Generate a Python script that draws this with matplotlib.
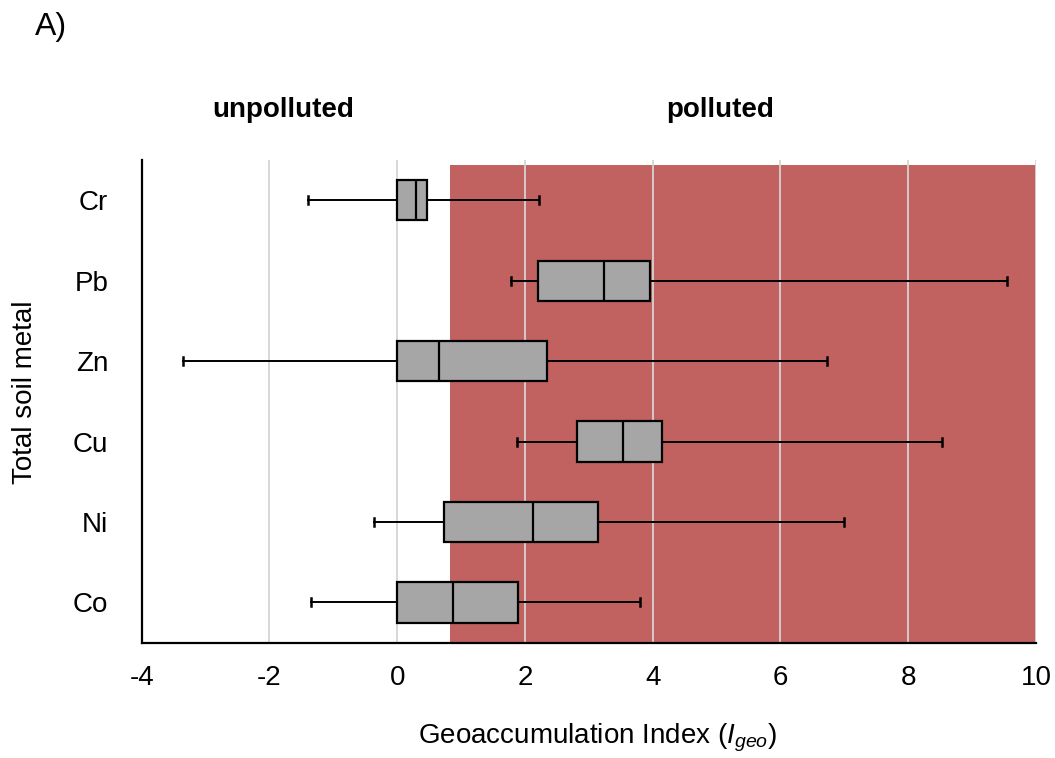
import matplotlib
matplotlib.use("Agg")
import matplotlib.pyplot as plt
import matplotlib.transforms as mtransforms

plt.rcParams['font.family'] = ['Liberation Sans', 'DejaVu Sans']
plt.rcParams['mathtext.fontset'] = 'custom'
plt.rcParams['mathtext.rm'] = 'Liberation Sans'
plt.rcParams['mathtext.it'] = 'Liberation Sans:italic'

# Data (bottom to top)
metals = ["Co", "Ni", "Cu", "Zn", "Pb", "Cr"]
whisker_low = [-1.35, -0.36, 1.88, -3.36, 1.78, -1.40]
q1 = [0.00, 0.73, 2.81, 0.00, 2.21, 0.00]
median = [0.88, 2.12, 3.54, 0.66, 3.24, 0.30]
q3 = [1.89, 3.15, 4.14, 2.35, 3.96, 0.46]
whisker_high = [3.80, 6.99, 8.53, 6.73, 9.54, 2.22]
polluted_threshold = 0.83
xticks = [-4, -2, 0, 2, 4, 6, 8, 10]

fig = plt.figure(figsize=(10.55, 7.58), dpi=100)
ax = fig.add_axes([141.7/1055, 1-642.7/758, (1036-141.7)/1055, (642.7-160)/758])

stats = []
for i, m in enumerate(metals):
    stats.append(dict(label=m, whislo=whisker_low[i], q1=q1[i], med=median[i],
                      q3=q3[i], whishi=whisker_high[i], fliers=[]))

positions = list(range(1, len(metals) + 1))

ax.axvspan(polluted_threshold, 10, ymin=0, ymax=0.99, color='#C16261', zorder=0, lw=0)
for x in xticks[1:]:
    ax.axvline(x, color='#d4d4d4', lw=1.3, zorder=1)

ax.bxp(stats, positions=positions, orientation='horizontal', widths=0.5,
       patch_artist=True, showfliers=False, capwidths=0.1,
       boxprops=dict(facecolor='#A6A6A6', edgecolor='black', linewidth=1.6),
       medianprops=dict(color='black', linewidth=1.6),
       whiskerprops=dict(color='black', linewidth=1.4),
       capprops=dict(color='black', linewidth=1.8),
       zorder=3)

ax.set_xlim(-4, 10)
ax.set_ylim(0.5, 6.5)
ax.set_xticks(xticks)
ax.set_xticklabels([str(t) for t in xticks])
ax.set_yticks(positions)
ax.set_yticklabels(metals)
ax.tick_params(axis='x', length=0, pad=16, labelsize=20)
ax.tick_params(axis='y', length=0, pad=24, labelsize=20)
for s in ['top', 'right']:
    ax.spines[s].set_visible(False)
for s in ['left', 'bottom']:
    ax.spines[s].set_linewidth(1.6)
    ax.spines[s].set_color('black')
    ax.spines[s].set_zorder(4)

trans = mtransforms.blended_transform_factory(ax.transData, fig.transFigure)
ax.text(-1.79, 1-110/758, "unpolluted", transform=trans, ha='center', va='center',
        fontsize=20, fontweight='bold')
ax.text(5.05, 1-110/758, "polluted", transform=trans, ha='center', va='center',
        fontsize=20, fontweight='bold')

fig.text(597/1055, 1-738/758, r"Geoaccumulation Index ($I_{geo}$)", ha='center', va='center',
         fontsize=20)
fig.text(25/1055, 1-392/758, "Total soil metal", ha='center', va='center',
         rotation=90, fontsize=20)
fig.text(35/1055, 1-27/758, "A)", ha='left', va='center', fontsize=23)

fig.savefig("out.png", dpi=100)
